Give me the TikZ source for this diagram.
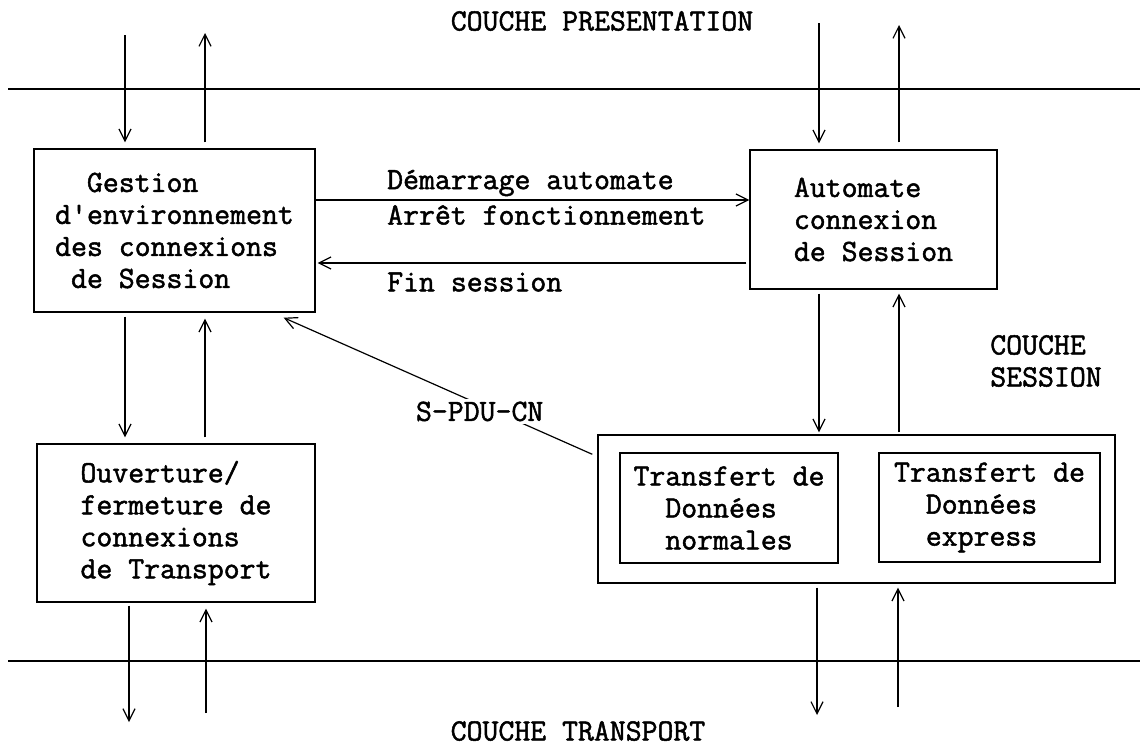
\documentclass[tikz,border=0pt]{standalone}
\usepackage{fontspec}
\usetikzlibrary{arrows.meta}
\newfontfamily\twbase{Latin Modern Mono}[FakeBold=1.6]
\newcommand\twfont{\twbase\bfseries\fontsize{30.9}{32}\selectfont}
\begin{document}
\begin{tikzpicture}[x=1pt,y=-1pt,
  txt/.style={font=\twfont, inner sep=0pt},
  box/.style={txt, draw, line width=1.4pt, align=left},
  arr/.style={-{Straight Barb[length=12pt,width=12pt]}, line width=1.2pt},
  sep/.style={line width=1.8pt}]
\useasboundingbox (0,0) rectangle (1140,748);
\fill[white] (0,0) rectangle (1140,748);

% layer separators
\coordinate (sl1) at (8,89); \coordinate (sr1) at (1140,89);
\coordinate (sl2) at (8,661); \coordinate (sr2) at (1140,661);
\draw[sep] (sl1) -- (sr1);
\draw[sep] (sl2) -- (sr2);

% layer names
\node[txt] (pres) at (602,21) {COUCHE PRESENTATION};
\node[txt, align=left] (sess) at (1046,361) {COUCHE\\SESSION};
\node[txt] (trans) at (578,731) {COUCHE TRANSPORT};

% boxes
\node[box, minimum width=281pt, minimum height=163pt] (b1) at (174.5,230.5)
  {\hphantom{xx}Gestion\\d'environnement\\des connexions\\\hphantom{x}de Session};
\node[box, minimum width=247pt, minimum height=139pt] (b2) at (873.5,219.5)
  {Automate\\connexion\\de Session};
\node[box, minimum width=278pt, minimum height=158pt] (b4) at (176,523)
  {Ouverture/\\fermeture de\\connexions\\de Transport};
\node[box, minimum width=517pt, minimum height=148pt] (b3) at (856.5,509) {};
\node[box, minimum width=218pt, minimum height=110pt] (b3a) at (729,508)
  {Transfert de\\\hphantom{xx}Données\\\hphantom{xx}normales};
\node[box, minimum width=221pt, minimum height=109pt] (b3b) at (989.5,507.5)
  {Transfert de\\\hphantom{xx}Données\\\hphantom{xx}express};

% horizontal arrows and labels
\coordinate (h1) at (0,200); \coordinate (h2) at (0,263);
\draw[arr] (b1.east |- h1) -- (b2.west |- h1);
\draw[arr, shorten <=3pt, shorten >=2pt] (b2.west |- h2) -- (b1.east |- h2);
\node[txt, anchor=west] (dem) at (387,183) {Démarrage automate};
\node[txt, anchor=west] (arret) at (387,215) {Arrêt fonctionnement};
\node[txt, anchor=west] (fin) at (387,282) {Fin session};

% left vertical arrows
\coordinate (a1) at (125,35);
\coordinate (a2) at (205,33);
\coordinate (a3) at (129,722);
\coordinate (a4) at (206,713);
\draw[arr, shorten >=6pt] (a1) -- (a1 |- b1.north);
\draw[arr, shorten <=6pt] (a2 |- b1.north) -- (a2);
\draw[arr, shorten <=4pt, shorten >=6pt] (a1 |- b1.south) -- (a1 |- b4.north);
\draw[arr, shorten <=6pt, shorten >=6pt] (a2 |- b4.north) -- (a2 |- b1.south);
\draw[arr, shorten <=3pt] (a3 |- b4.south) -- (a3);
\draw[arr, shorten >=6pt] (a4) -- (a4 |- b4.south);

% right vertical arrows
\coordinate (c1) at (819,23);
\coordinate (c2) at (899,25);
\coordinate (c3) at (817,715);
\coordinate (c4) at (898,707);
\draw[arr, shorten >=6pt] (c1) -- (c1 |- b2.north);
\draw[arr, shorten <=7pt] (c2 |- b2.north) -- (c2);
\draw[arr, shorten <=4pt, shorten >=2pt] (c1 |- b2.south) -- (c1 |- b3.north);
\draw[arr, shorten <=2pt, shorten >=4pt] (c2 |- b3.north) -- (c2 |- b2.south);
\draw[arr, shorten <=4pt] (c3 |- b3.south) -- (c3);
\draw[arr, shorten >=4pt] (c4) -- (c4 |- b3.south);

% S-PDU-CN
\draw[arr] ([shift={(-5,20)}]b3.north west)
  -- node[txt, pos=0.365, fill=white, yshift=-7pt, inner xsep=0pt, inner ysep=3pt] (pdu) {S-PDU-CN}
  ([shift={(-32,5)}]b1.south east);
\end{tikzpicture}
\end{document}
